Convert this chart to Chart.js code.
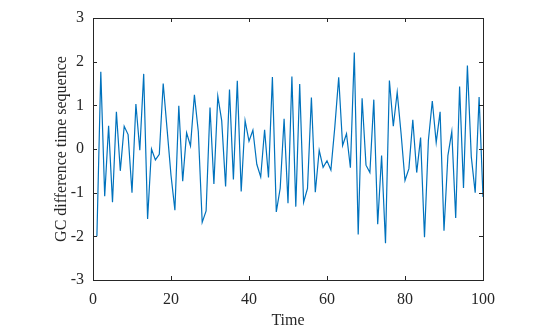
<!DOCTYPE html>
<html>
<head>
<meta charset="utf-8">
<script src="https://cdn.jsdelivr.net/npm/chart.js@4/dist/chart.umd.min.js"></script>
<style>
  html, body { margin: 0; padding: 0; background: #fff; }
  #wrap { width: 547px; height: 334px; }
</style>
</head>
<body>
<div id="wrap"><canvas id="c" width="547" height="334"></canvas></div>
<script>
// ── Data ──
const timeSteps = Array.from({ length: 100 }, (_, i) => i + 1); // sample index 1..100
const gcDiff = [
  -2.00, 1.77, -1.08, 0.53, -1.22, 0.85, -0.50, 0.52, 0.33, -1.00,
  1.03, -0.03, 1.72, -1.60, 0.00, -0.25, -0.12, 1.50, 0.45, -0.60,
  -1.40, 0.99, -0.74, 0.37, 0.07, 1.24, 0.40, -1.68, -1.42, 0.95,
  -0.80, 1.21, 0.65, -0.86, 1.36, -0.70, 1.56, -0.97, 0.65, 0.18,
  0.43, -0.35, -0.64, 0.44, -0.65, 1.65, -1.44, -0.90, 0.69, -1.24,
  1.66, -1.32, 1.49, -1.22, -0.90, 1.18, -0.99, -0.03, -0.42, -0.27,
  -0.48, 0.50, 1.64, 0.08, 0.35, -0.43, 2.21, -1.96, 1.16, -0.37,
  -0.54, 1.13, -1.72, -0.15, -2.16, 1.57, 0.52, 1.30, 0.35, -0.72,
  -0.45, 0.67, -0.54, 0.26, -2.02, 0.20, 1.10, 0.15, 0.85, -1.87,
  -0.15, 0.40, -1.58, 1.43, -0.89, 1.91, -0.18, -1.00, 1.19, -1.10,
];
const xTicks = [0, 20, 40, 60, 80, 100];
const yTicks = [-3, -2, -1, 0, 1, 2, 3];

const AXIS = '#262626';
const FONT = 'Liberation Serif, Times New Roman, serif';

// ── Box + inward ticks, MATLAB style ──
const boxPlugin = {
  id: 'box',
  afterDraw(chart) {
    const { ctx, chartArea: a, scales: { x, y } } = chart;
    ctx.save();
    ctx.strokeStyle = AXIS;
    ctx.lineWidth = 1;
    ctx.strokeRect(a.left + 0.5, a.top + 0.5, a.right - a.left, a.bottom - a.top);
    const len = 4;
    ctx.beginPath();
    for (const t of xTicks) {
      const px = Math.round(x.getPixelForValue(t)) + 0.5;
      ctx.moveTo(px, a.bottom); ctx.lineTo(px, a.bottom - len);
      ctx.moveTo(px, a.top); ctx.lineTo(px, a.top + len);
    }
    for (const t of yTicks) {
      const py = Math.round(y.getPixelForValue(t)) + 0.5;
      ctx.moveTo(a.left, py); ctx.lineTo(a.left + len, py);
      ctx.moveTo(a.right, py); ctx.lineTo(a.right - len, py);
    }
    ctx.stroke();
    ctx.restore();
  },
};

new Chart(document.getElementById('c').getContext('2d'), {
  type: 'line',
  data: {
    datasets: [{
      data: timeSteps.map((t, i) => ({ x: t, y: gcDiff[i] })),
      borderColor: '#0072BD',
      borderWidth: 1.2,
      pointRadius: 0,
      tension: 0,
      fill: false,
    }],
  },
  options: {
    responsive: false,
    animation: false,
    layout: { padding: { left: 52, right: 64, top: 18, bottom: 0 } },
    plugins: { legend: { display: false }, tooltip: { enabled: false } },
    scales: {
      x: {
        type: 'linear', min: 0, max: 100,
        afterFit: s => { s.height = 54; },
        afterBuildTicks: s => { s.ticks = xTicks.map(v => ({ value: v })); },
        grid: { display: false },
        border: { display: false },
        ticks: { color: AXIS, font: { family: FONT, size: 16 }, padding: 2, maxRotation: 0 },
        title: { display: true, text: 'Time', color: AXIS, font: { family: FONT, size: 16 }, padding: { top: 0 } },
      },
      y: {
        min: -3, max: 3,
        afterFit: s => { s.width = 41; },
        afterBuildTicks: s => { s.ticks = yTicks.map(v => ({ value: v })); },
        grid: { display: false },
        border: { display: false },
        ticks: { color: AXIS, font: { family: FONT, size: 16 }, padding: 1 },
        title: { display: true, text: 'GC difference time sequence', color: AXIS, font: { family: FONT, size: 16 }, padding: { top: 0, bottom: 0 } },
      },
    },
  },
  plugins: [boxPlugin],
});
</script>
</body>
</html>
